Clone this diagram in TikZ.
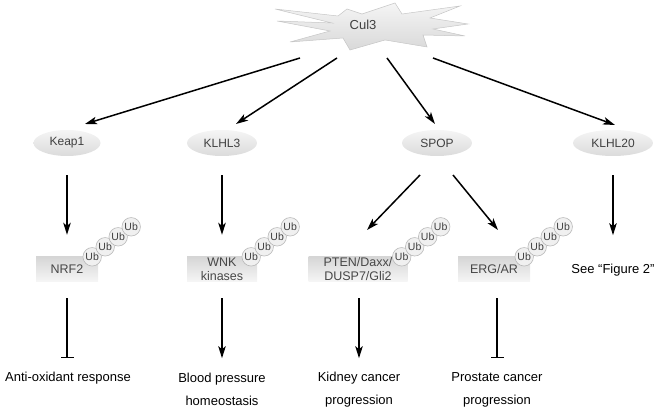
\documentclass[tikz,border=0pt]{standalone}
\usepackage{fontspec}
\setmainfont{Liberation Sans}
\usetikzlibrary{arrows.meta,shapes.geometric}

\tikzset{
	oval/.style={ellipse, minimum height=26pt, inner sep=0pt, top color=gray!8, bottom color=gray!28, text=black!75, font=\fontsize{12}{14}\selectfont},
	prot/.style={rectangle, minimum height=25pt, inner sep=0pt, top color=gray!32, bottom color=gray!7, text=black!72, align=center, font=\fontsize{12.5}{14}\selectfont},
	ub/.style={circle, minimum size=18.5pt, inner sep=0pt, fill=gray!12, draw=gray!55, line width=0.6pt, text=black!75, font=\fontsize{10.5}{11}\selectfont},
	outcome/.style={align=center, font=\fontsize{13}{23}\selectfont},
	act/.style={line width=1.5pt, -{Stealth[length=12pt,width=7.5pt,inset=3pt]}},
	inh/.style={line width=1.5pt, -{Bar[width=13pt]}}
}

\begin{document}
\begin{tikzpicture}[x=1pt, y=-1pt]
		\useasboundingbox (0,0) rectangle (661,411);
		% Cul3 burst
		\draw[gray!45, line width=0.5pt, top color=gray!8, bottom color=gray!30]
		(275,9) -- (338,16) -- (347,9) -- (362,14) -- (395,3) -- (402,14) -- (460,6) -- (430,18)
		-- (468,24) -- (433,29) -- (465,36) -- (423,35) -- (427,47) -- (385,40) -- (350,50)
		-- (343,38) -- (290,42) -- (330,31) -- (277,21) -- (332,23) -- cycle;
		\node[text=black!75, font=\fontsize{13}{14}\selectfont] (cul) at (363,25) {Cul3};
		
		% adaptors
		\node[oval, minimum width=67pt] (keap) at (67,143) {Keap1};
		\node[oval, minimum width=70pt] (klhl3) at (222,143) {KLHL3};
		\node[oval, minimum width=70pt] (spop) at (437,143) {SPOP};
		\node[oval, minimum width=80pt] (klhl20) at (613,143) {KLHL20};
		
		% substrates
		\node[prot, minimum width=62pt] (nrf) at (67,269.5) {NRF2};
		\node[prot, minimum width=70pt] (wnk) at (222,269.5) {WNK\\kinases};
		\node[prot, minimum width=99pt] (pten) at (358,269.5) {PTEN/Daxx/\\DUSP7/Gli2};
		\node[prot, minimum width=72pt] (erg) at (494,269.5) {ERG/AR};
		\node[outcome] (see) at (613,270) {See “Figure 2”};
		
		\foreach \p in {nrf,wnk,pten,erg}{
			\foreach \i in {0,...,3}
				\node[ub] (\p-ub\i) at ([xshift={13*\i-6}, yshift={10*\i}]\p.north east) {Ub};
		}
		
		% outcomes
		\node[outcome] (anti) at (68,378) {Anti-oxidant response};
		\node[outcome] (blood) at (222,389.5) {Blood pressure\\homeostasis};
		\node[outcome] (kidney) at (359,389.5) {Kidney cancer\\progression};
		\node[outcome] (prostate) at (497,389.5) {Prostate cancer\\progression};
		
		% Cul3 to adaptors
		\coordinate (c1) at (300,58);
		\coordinate (c2) at (337,58);
		\coordinate (c3) at (387,58);
		\coordinate (c4) at (433,58);
		\coordinate (keapin) at (85,124);
		\coordinate (klhl3in) at (236,124);
		\coordinate (spopin) at (435,124);
		\coordinate (klhl20in) at (615,125);
		\draw[act] (c1) -- (keapin);
		\draw[act] (c2) -- (klhl3in);
		\draw[act] (c3) -- (spopin);
		\draw[act] (c4) -- (klhl20in);
		
		% adaptors to substrates
		\draw[act, shorten <=19pt, shorten >=22pt] (keap) -- (nrf);
		\draw[act, shorten <=19pt, shorten >=22pt] (klhl3) -- (wnk);
		\draw[act] ([yshift=-19pt]klhl20.south) -- ++(0,60);
		\coordinate (s1) at (420,175);
		\coordinate (s2) at (453,175);
		\coordinate (ptenin) at (367,230);
		\coordinate (ergin) at (498,230);
		\draw[act] (s1) -- (ptenin);
		\draw[act] (s2) -- (ergin);
		
		% substrates to outcomes
		\draw[inh] ([yshift=-16pt]nrf.south) -- ++(0,60);
		\draw[act] ([yshift=-16pt]wnk.south) -- ++(0,60);
		\draw[act] ([xshift=1pt, yshift=-16pt]pten.south) -- ++(0,60);
		\draw[inh] ([xshift=3pt, yshift=-16pt]erg.south) -- ++(0,60);
	\end{tikzpicture}
\end{document}
